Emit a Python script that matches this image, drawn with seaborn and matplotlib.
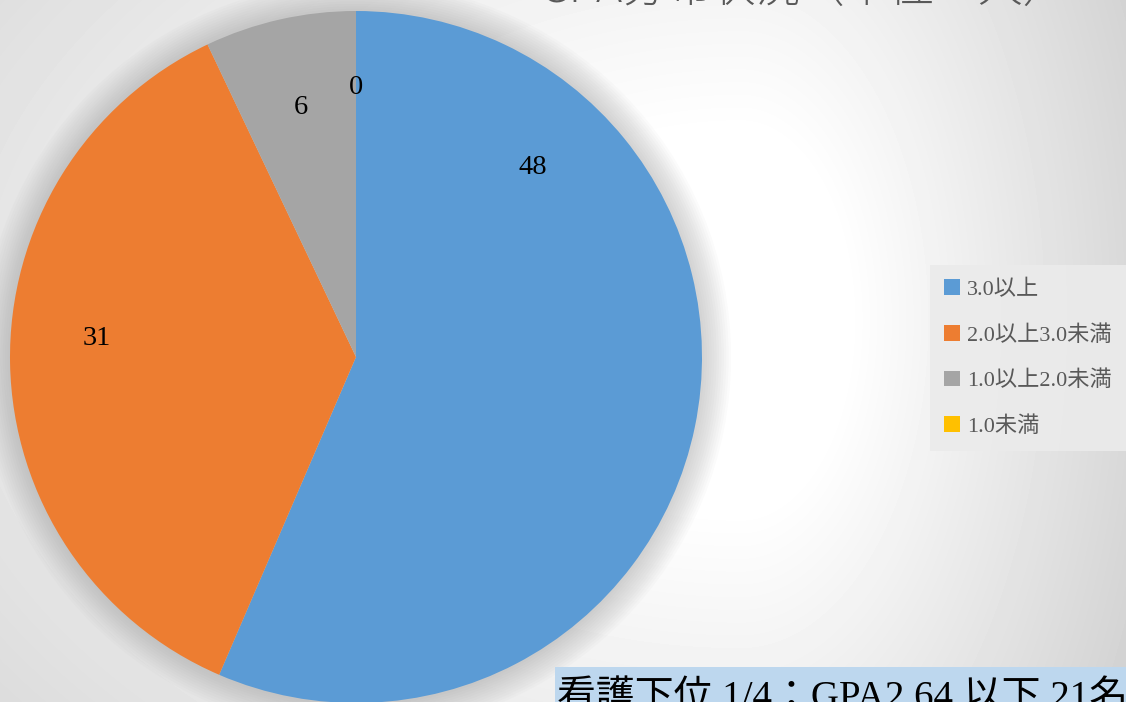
import matplotlib
matplotlib.use("Agg")
import matplotlib.pyplot as plt
from matplotlib.patches import Circle, Rectangle
import numpy as np
import seaborn as sns

# data
categories = ["3.0以上", "2.0以上3.0未満", "1.0以上2.0未満", "1.0未満"]
counts = [48, 31, 6, 0]
colors = ["#5B9BD5", "#ED7D31", "#A5A5A5", "#FFC000"]
title_text = "GPA分布状況（単位：人）"
note_text = "看護下位 1/4：GPA2.64 以下 21名"

sns.set_style("white")
serif = ["Liberation Serif", "Noto Sans CJK JP"]
plt.rcParams["font.family"] = serif

W, H = 1126, 702
fig = plt.figure(figsize=(W / 100, H / 100), dpi=100)

# background gradient
bg = fig.add_axes([0, 0, 1, 1], zorder=0)
yy, xx = np.mgrid[0:H, 0:W]
dx = xx - 740.0
wx = np.where(dx > 0, 430.0, 1100.0)
d = np.sqrt((dx / wx) ** 2 + ((yy - 320.0) / 750.0) ** 2) - 0.25
v = 1 - 0.23 * np.clip(d, 0, 1)
bg.imshow(v, cmap="gray", vmin=0, vmax=1, aspect="auto", extent=[0, W, H, 0])
bg.set_axis_off()

# pie
cx, cy, R = 356, 357, 346
ax = fig.add_axes([(cx - R) / W, (H - cy - R) / H, 2 * R / W, 2 * R / H], zorder=1)
for i in range(12):
    ax.add_patch(Circle((0, 0.0), 1 + 0.007 * (i + 1), color="#909090", alpha=0.035,
                        lw=0, zorder=0, clip_on=False))
wedges, _ = ax.pie(counts, colors=colors, startangle=90, counterclock=False,
                   radius=1, wedgeprops=dict(linewidth=0))
for w in wedges:
    w.set_zorder(2)

# data labels (Excel best fit placement)
label_angles = [47, 176, 102.5, 90]
label_dist = [0.75, 0.75, 0.74, 0.78]
for c, a, r in zip(counts, label_angles, label_dist):
    t = np.deg2rad(a)
    ax.text(r * np.cos(t), r * np.sin(t), str(c), ha="center", va="center",
            fontsize=20.5, color="black", family=serif, zorder=3)
ax.set_xlim(-1.0, 1.0)
ax.set_ylim(-1.0, 1.0)
ax.set_aspect("equal")
ax.set_axis_off()

# legend
leg = fig.legend(wedges, categories, loc="upper left",
                 bbox_to_anchor=(930 / W, 1 - 265 / H), frameon=True,
                 fancybox=False, handlelength=0.7, handleheight=0.7,
                 handletextpad=0.3, labelspacing=1.12, borderpad=0.65,
                 borderaxespad=0, prop={"family": serif, "size": 16})
leg.get_frame().set_facecolor("#ebebeb")
leg.get_frame().set_edgecolor("none")
leg.get_frame().set_alpha(0.9)
for t in leg.get_texts():
    t.set_color("#595959")
leg.set_zorder(4)

# title (cut off at top, as in the source slide)
fig.text(803 / W, 1 + 10 / H, title_text, ha="center", va="center", fontsize=32,
         color="#595959", family=["Noto Sans CJK JP"], fontweight="light", zorder=5)

# note box
fig.patches.append(Rectangle((555 / W, 0), 1, (H - 667) / H, transform=fig.transFigure,
                             facecolor="#BDD7EE", edgecolor="none", zorder=5))
fig.text(557 / W, 1 - 681 / H, note_text, ha="left", va="top", fontsize=28,
         color="black", family=serif, zorder=6)

fig.savefig("out.png", dpi=100)
